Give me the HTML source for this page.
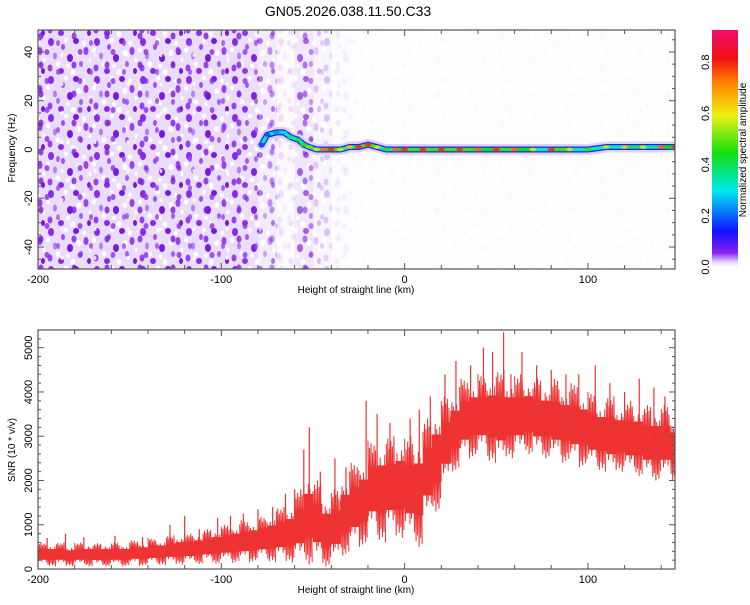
<!DOCTYPE html>
<html><head><meta charset="utf-8"><style>
body{margin:0;background:#fff;width:750px;height:600px;overflow:hidden}
svg{font-family:"Liberation Sans",sans-serif}
</style></head><body>
<svg id="s" width="750" height="600">
<defs>
<linearGradient id="cb" x1="0" y1="1" x2="0" y2="0">
<stop offset="0" stop-color="#ffffff"/><stop offset="0.02" stop-color="#e8d8ff"/>
<stop offset="0.06" stop-color="#8a20f0"/><stop offset="0.15" stop-color="#1010ff"/>
<stop offset="0.32" stop-color="#00e8f0"/><stop offset="0.48" stop-color="#10e010"/>
<stop offset="0.64" stop-color="#f0f010"/><stop offset="0.78" stop-color="#ff8000"/>
<stop offset="0.88" stop-color="#f01010"/><stop offset="1" stop-color="#f01070"/>
</linearGradient>
<pattern id="speck" width="46" height="38" patternUnits="userSpaceOnUse">
<rect width="46" height="38" fill="#eadcfc"/>
<ellipse cx="5" cy="4" rx="3" ry="4" fill="#8a2be8"/><ellipse cx="17" cy="9" rx="2" ry="3" fill="#a050f0"/>
<ellipse cx="30" cy="3" rx="3" ry="3" fill="#7a18e0"/><ellipse cx="40" cy="13" rx="2.5" ry="4" fill="#9a40f0"/>
<ellipse cx="9" cy="18" rx="2" ry="3.5" fill="#b080f4"/><ellipse cx="24" cy="20" rx="3" ry="4" fill="#7a18e0"/>
<ellipse cx="35" cy="26" rx="2" ry="3" fill="#a060f0"/><ellipse cx="4" cy="30" rx="2.5" ry="3.5" fill="#9a40f0"/>
<ellipse cx="15" cy="33" rx="3" ry="3" fill="#8a2be8"/><ellipse cx="27" cy="34" rx="2.5" ry="3" fill="#ffffff"/>
<ellipse cx="43" cy="33" rx="2" ry="3" fill="#7a18e0"/><ellipse cx="20" cy="2" rx="2" ry="2.5" fill="#ffffff"/>
<ellipse cx="12" cy="26" rx="2.5" ry="2.5" fill="#ffffff"/><ellipse cx="33" cy="15" rx="2.5" ry="3" fill="#ffffff"/>
<ellipse cx="2" cy="12" rx="2" ry="2.5" fill="#ffffff"/><ellipse cx="38" cy="5" rx="2" ry="2.5" fill="#ffffff"/>
<ellipse cx="22" cy="28" rx="2" ry="2" fill="#ffffff"/><ellipse cx="44" cy="22" rx="1.5" ry="2.5" fill="#ffffff"/>
</pattern>
<pattern id="speck2" width="33" height="29" patternUnits="userSpaceOnUse">
<ellipse cx="8" cy="7" rx="2.5" ry="3.5" fill="#7a18e0" opacity="0.8"/><ellipse cx="25" cy="14" rx="2" ry="3" fill="#9a40f0" opacity="0.8"/>
<ellipse cx="14" cy="23" rx="2.5" ry="3" fill="#8a2be8" opacity="0.8"/><ellipse cx="29" cy="26" rx="1.5" ry="2" fill="#ffffff" opacity="0.8"/>
</pattern>
</defs>
</svg>
<script>
// ---- data ----
const TITLE="GN05.2026.038.11.50.C33";
const densX=[-200,-190,-180,-170,-160,-150,-140,-130,-120,-110,-100,-90,-80,-70,-60,-50,-40,-30,-20,-10,0,10,20,30,40,50,60,70,80,90,100,110,120,130,140];
const densV=[1,1,1,1,1,1,1,1,1,1,1,0.95,0.6,0.15,0.7,0.3,0.08,0.03,0.02,0.02,0.02,0.02,0.02,0.02,0.02,0.02,0.02,0.02,0.02,0.02,0.02,0.02,0.02,0.02,0.02];
const ridgeX=[-78,-75,-70,-66,-62,-58,-55,-52,-48,-44,-40,-35,-30,-25,-20,-15,-10,-5,0,10,20,30,40,50,60,70,80,90,100,110,120,130,140,148];
const ridgeF=[2,6,7,7,5,4,2,1,0,0,0,0,1,1,2,1,0,0,0,0,0,0,0,0,0,0,0,0,0,1,1,1,1,1];
const ridgeA=[0.2,0.2,0.25,0.3,0.4,0.45,0.5,0.55,0.6,0.8,0.85,0.6,0.7,0.85,0.85,0.6,0.5,0.8,0.85,0.85,0.85,0.85,0.8,0.85,0.8,0.6,0.85,0.6,0.5,0.6,0.7,0.6,0.8,0.9];
const snrX=[-200,-195,-190,-185,-180,-175,-170,-165,-160,-155,-150,-145,-140,-135,-130,-125,-120,-115,-110,-105,-100,-95,-90,-85,-80,-75,-70,-65,-60,-55,-50,-45,-40,-35,-30,-25,-20,-15,-10,-5,0,5,10,15,20,25,30,35,40,45,50,55,60,65,70,75,80,85,90,95,100,105,110,115,120,125,130,135,140,145];
const snrLo=[60,60,60,60,60,60,60,60,60,60,70,70,80,90,90,100,100,110,120,120,130,140,140,150,160,150,150,150,120,100,80,60,100,300,400,500,700,600,700,700,600,500,1000,1300,1800,2200,2400,2500,2500,2400,2300,2500,2500,2600,2500,2500,2400,2400,2300,2300,2200,2200,2100,2200,2100,2100,2000,2000,2000,2000];
const snrHi=[600,600,600,560,600,600,580,600,600,600,650,650,700,700,760,800,800,850,900,950,1000,1050,1100,1150,1200,1300,1400,1500,1800,2300,2000,1700,1800,2200,2400,2600,2900,3000,3000,3100,3000,3100,3400,3700,3900,4100,4300,4400,4400,4500,4500,4400,4400,4400,4300,4300,4300,4200,4200,4100,4000,3900,3900,3800,3800,3800,3700,3700,3700,3500];
const spikeX=[-195,-185,-175,-158,-143,-128,-120,-112,-102,-95,-88,-80,-72,-65,-60,-55,-52,-46,-38,-32,-21,-15,-8,3,8,14,22,28,36,43,48,54,58,64,72,80,88,95,104,112,120,128,136,142];
const spikeV=[700,800,720,750,720,1000,1200,900,1150,1200,1250,1350,1400,1700,1800,2700,3200,2200,2500,2300,3800,3500,3300,3400,3600,3900,4400,4700,4600,5000,4900,5350,4400,4900,4600,4500,4400,4400,4600,4200,4000,4300,4100,3900];
// drawing style: fractional stroke jitter pattern (not data)
const JIT=[1,0.55,0.85,0.35,0.95,0.6,0.75,0.45,0.9,0.3,0.8,0.65];

// ---- helpers ----
const S=document.getElementById('s'),NS='http://www.w3.org/2000/svg';
function mk(t,a,p){const e=document.createElementNS(NS,t);for(const k in a)e.setAttribute(k,a[k]);(p||S).appendChild(e);return e;}
const L=38,R=675,XMIN=-200,XMAX=147.5;
const X=v=>L+(v-XMIN)/(XMAX-XMIN)*(R-L);
const T1=30,B1=269,FMIN=-49,FMAX=49;
const YF=v=>B1-(v-FMIN)/(FMAX-FMIN)*(B1-T1);
const T2=330,B2=569,SMAX=5400;
const YS=v=>B2-v/SMAX*(B2-T2);
function cmap(a){const st=[[0,[255,255,255]],[0.06,[138,32,240]],[0.15,[16,16,255]],[0.32,[0,232,240]],[0.48,[16,224,16]],[0.64,[240,240,16]],[0.78,[255,128,0]],[0.88,[240,16,16]],[1,[240,16,112]]];
 for(let i=1;i<st.length;i++)if(a<=st[i][0]){const f=(a-st[i-1][0])/(st[i][0]-st[i-1][0]);const c=st[i-1][1].map((v,j)=>Math.round(v+f*(st[i][1][j]-v)));return `rgb(${c})`;}return 'rgb(240,16,112)';}

let t=mk('text',{x:348,y:16,'text-anchor':'middle','font-size':14});t.textContent=TITLE;


// ---- spectrogram ----
const cp=mk('clipPath',{id:'c1'});mk('rect',{x:L,y:T1,width:R-L,height:B1-T1},cp);
const cp2=mk('clipPath',{id:'c2'});mk('rect',{x:L,y:T2,width:R-L,height:B2-T2},cp2);
const g1=mk('g',{'clip-path':'url(#c1)'});

densX.forEach((x,i)=>{const r=mk('rect',{x:X(x),y:T1,width:X(x+10)-X(x)+0.5,height:B1-T1,fill:'url(#speck)',opacity:densV[i]},g1);
 
 const r2=mk('rect',{x:X(x),y:T1,width:X(x+10)-X(x)+0.5,height:B1-T1,fill:'url(#speck2)',opacity:densV[i]},g1);
 });
const pts=ridgeX.map((x,i)=>X(x)+','+YF(ridgeF[i])).join(' ');
let h=mk('polyline',{points:pts,fill:'none',stroke:'#e2d0fc',"stroke-width":11,'stroke-linejoin':'round','stroke-linecap':'round'},g1);

h=mk('polyline',{points:pts,fill:'none',stroke:'#2020f0',"stroke-width":6,'stroke-linejoin':'round','stroke-linecap':'round'},g1);

for(let i=0;i<ridgeX.length-1;i++){const s=mk('line',{x1:X(ridgeX[i]),y1:YF(ridgeF[i]),x2:X(ridgeX[i+1]),y2:YF(ridgeF[i+1]),stroke:cmap(Math.max(0.35,ridgeA[i]*0.6)),'stroke-width':3.5,'stroke-linecap':'round'},g1);
 }
ridgeX.forEach((x,i)=>{const c=mk('ellipse',{cx:X(x),cy:YF(ridgeF[i]),rx:3.5,ry:1.8,fill:cmap(ridgeA[i])},g1);
 });

// ---- SNR ----
const g2=mk('g',{'clip-path':'url(#c2)'});
snrX.forEach((x,i)=>{const lo=snrLo[i],hi=snrHi[i],mid=(lo+hi)/2;
 const r=mk('rect',{x:X(x),y:YS(mid+(hi-mid)*0.45),width:X(x+5)-X(x)+0.3,height:YS(mid-(mid-lo)*0.45)-YS(mid+(hi-mid)*0.45),fill:'#ee3333'},g2);
 
 let p=[];const n=12;
 for(let k=0;k<n;k++){const xx=X(x+5*k/n);const f=JIT[(k+i)%JIT.length];
  p.push(xx+','+YS(k%2?mid-(mid-lo)*f:mid+(hi-mid)*f));}
 const pl=mk('polyline',{points:p.join(' '),fill:'none',stroke:'#ee3333','stroke-width':1},g2);
 });
spikeX.forEach((x,i)=>{const j=Math.min(snrX.length-1,Math.max(0,Math.floor((x+200)/5)));
 const l=mk('line',{x1:X(x),x2:X(x),y1:YS(spikeV[i]),y2:YS((snrLo[j]+snrHi[j])/2),stroke:'#ee3333','stroke-width':1.2},g2);
 });

// ---- axes ----
const xTicks=[-200,-100,0,100];
const fTicks=[-40,-20,0,20,40];
const sTicks=[0,1000,2000,3000,4000,5000];
const cTicks=[0,0.2,0.4,0.6,0.8];
function frame(top,bot,name){const r=mk('rect',{x:L,y:top,width:R-L,height:bot-top,fill:'none',stroke:'#555','stroke-width':1.2});
 
 for(let v=-200;v<=140;v+=20){const big=v%100===0,len=big?6:4;mk('line',{x1:X(v),x2:X(v),y1:bot,y2:bot-len,stroke:'#555'});mk('line',{x1:X(v),x2:X(v),y1:top,y2:top+len,stroke:'#555'});}
 xTicks.forEach(v=>{const tx=mk('text',{x:X(v),y:bot+14,'text-anchor':'middle','font-size':11});tx.textContent=v;
  });
 const xl=mk('text',{x:356,y:bot+24,'text-anchor':'middle','font-size':10});xl.textContent='Height of straight line (km)';
 }
frame(T1,B1,'spectrogram-frame');frame(T2,B2,'snr-frame');
for(let v=-45;v<=45;v+=5){const len=v%20===0?6:3;mk('line',{x1:L,x2:L+len,y1:YF(v),y2:YF(v),stroke:'#555'});mk('line',{x1:R,x2:R-len,y1:YF(v),y2:YF(v),stroke:'#555'});}
fTicks.forEach(v=>{const tx=mk('text',{x:0,y:0,'text-anchor':'middle','font-size':11,transform:`translate(32,${YF(v)}) rotate(-90)`});tx.textContent=v;
 });
for(let v=0;v<=5400;v+=200){const len=v%1000===0?6:3;mk('line',{x1:L,x2:L+len,y1:YS(v),y2:YS(v),stroke:'#555'});mk('line',{x1:R,x2:R-len,y1:YS(v),y2:YS(v),stroke:'#555'});}
sTicks.forEach(v=>{const tx=mk('text',{x:0,y:0,'text-anchor':'middle','font-size':11,transform:`translate(32,${YS(v)}) rotate(-90)`});tx.textContent=v;
 });
let yl=mk('text',{x:0,y:0,'text-anchor':'middle','font-size':10,transform:'translate(15,148) rotate(-90)'});yl.textContent='Frequency (Hz)';

yl=mk('text',{x:0,y:0,'text-anchor':'middle','font-size':10,transform:'translate(15,450) rotate(-90)'});yl.textContent='SNR (10 * v/v)';


// ---- colorbar ----
const CB0=267,CBS=256;
const cb=mk('rect',{x:712,y:30,width:26,height:CB0-30,fill:'url(#cb)'});

cTicks.forEach(v=>{const tx=mk('text',{x:0,y:0,'text-anchor':'middle','font-size':11,transform:`translate(709,${CB0-v*CBS}) rotate(-90)`});tx.textContent=v.toFixed(1);
 });
const ct=mk('text',{x:0,y:0,'text-anchor':'middle','font-size':10,transform:'translate(746,150) rotate(-90)'});ct.textContent='Normalized spectral amplitude';

</script>
</body></html>
